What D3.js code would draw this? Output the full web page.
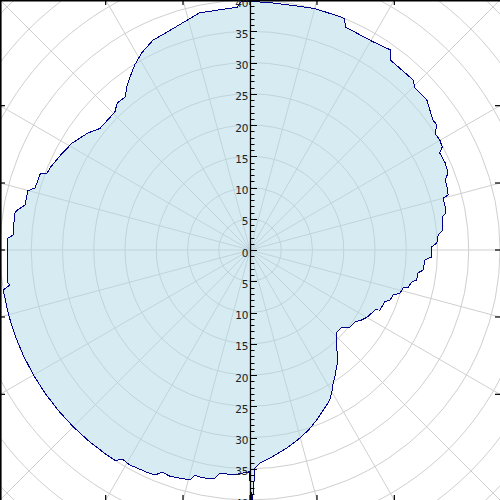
<!DOCTYPE html>
<html>
<head>
<meta charset="utf-8">
<script src="https://cdn.jsdelivr.net/npm/d3@7"></script>
<style>
  html, body { margin: 0; padding: 0; background: #fff; }
  svg { display: block; }
</style>
</head>
<body>
<div class="polar"></div>
<script>
(function() {
  // direction in degrees, clockwise from north
  var directions = [0, 5, 9, 15, 21, 22.3, 23.1, 30.6, 35, 36.4, 43.8, 45.5, 49.7, 54.6, 56.2, 57.7,
    59.9, 61.8, 62.9, 65.9, 68.7, 70.3, 72.3, 74.5, 74.9, 77.6, 79.3, 80.2, 84.1, 85.4, 87.9, 89,
    92.2, 93.3, 96.6, 97.8, 100.2, 101.2, 103.2, 104, 106, 107.5, 109.7, 111, 114.8, 115.6, 119.8,
    122, 124.4, 127.6, 130, 133.3, 136, 139, 141.3, 146.2, 148, 150, 152, 158.5, 162, 165.8, 169.4,
    174, 177.3, 178.7, 179.5, 180.2, 184.3, 187.7, 188.7, 189.9, 192.4, 193.7, 194.6, 197, 199.5,
    201.6, 202.9, 204.9, 209.2, 211.5, 212.5, 215, 220, 225, 230, 235, 240, 245, 250, 255, 260.8,
    261.7, 262.2, 267.6, 272.4, 272.8, 273.6, 278.9, 279.7, 281.3, 284.9, 286.1, 289.9, 290.8,
    292.3, 297.3, 301, 305.8, 309, 315.6, 317.9, 320.8, 323.3, 325.3, 328.1, 331.3, 335.2, 339.2,
    344, 348, 357, 358];
  var values = [39.8, 39.7, 39.7, 40, 40, 40, 38.8, 38.7, 39.1, 37.8, 37.7, 37, 37.1, 35.9, 36, 35,
    35.1, 34.9, 34.1, 34.2, 34, 33.2, 33.1, 32.9, 32, 32, 31.9, 31.2, 31, 30.2, 29.9, 29.1,
    29.1, 28, 27.9, 27.1, 27.1, 26.4, 26, 25.2, 25, 24, 23.8, 23.1, 22.9, 22.2, 21.6,
    21.1, 20.4, 20.2, 19.2, 19.1, 20, 21.2, 22.5, 24.4, 25.1, 26.2, 27.2, 29.2, 30.3, 31.3, 32.2,
    33.3, 34.1, 34.9, 41, 35.5, 36.1, 36, 36.9, 37.2, 37.2, 37.1, 38, 38.2, 38.4,
    38.2, 39.1, 39.2, 39.4, 39.2, 40, 40, 40, 40, 40, 40, 40, 40, 40, 40, 40,
    38.8, 39.1, 38.9, 38.9, 38.8, 38, 38.1, 37.8, 36.7, 36.8, 35.8, 35.7, 34.7,
    34.6, 33.8, 33.2, 32, 30.9, 30.9, 31.7, 31.6, 32.9, 33.7, 34.9, 36, 37, 37.3,
    38, 38.8, 38.9, 39.8];
  var tickLabels = ['0', '5', '10', '15', '20', '25', '30', '35', '40'];

  var width = 500, height = 500;
  var cx = 250, cy = 250;

  var data = directions.map(function(d, i) { return { dir: d, v: values[i] }; });

  var r = d3.scaleLinear().domain([0, 40]).range([0, 250]);
  var ang = function(deg) { return deg * Math.PI / 180; };

  var svg = d3.select('.polar')
    .append('svg')
    .attr('width', width)
    .attr('height', height);

  svg.append('clipPath').attr('id', 'plotclip')
    .append('rect').attr('x', 0).attr('y', 0).attr('width', width).attr('height', height);

  var g = svg.append('g')
    .attr('clip-path', 'url(#plotclip)')
    .append('g')
    .attr('transform', 'translate(' + cx + ',' + cy + ')');

  // circular grid every 5
  g.selectAll('.ring')
    .data(d3.range(5, 60, 5))
    .enter()
    .append('circle')
    .attr('class', 'ring')
    .attr('r', function(d) { return r(d); })
    .attr('fill', 'none')
    .attr('stroke', '#cfcfcf')
    .attr('stroke-width', 1);

  // spokes every 15 degrees
  var spokes = d3.range(0, 360, 15);
  g.selectAll('.spoke')
    .data(spokes)
    .enter()
    .append('line')
    .attr('class', 'spoke')
    .attr('x1', 0).attr('y1', 0)
    .attr('x2', function(d) { return Math.sin(ang(d)) * 400; })
    .attr('y2', function(d) { return -Math.cos(ang(d)) * 400; })
    .attr('stroke', '#cfcfcf')
    .attr('stroke-width', 1);

  // filled series
  var area = d3.areaRadial()
    .angle(function(d) { return ang(d.dir); })
    .innerRadius(0)
    .outerRadius(function(d) { return r(d.v); })
    .curve(d3.curveLinearClosed);

  var line = d3.lineRadial()
    .angle(function(d) { return ang(d.dir); })
    .radius(function(d) { return r(d.v); })
    .curve(d3.curveLinearClosed);

  g.append('path')
    .datum(data)
    .attr('d', area)
    .attr('fill', 'lightblue')
    .attr('fill-opacity', 0.5);

  g.append('path')
    .datum(data)
    .attr('d', line)
    .attr('fill', 'none')
    .attr('stroke', '#00008b')
    .attr('stroke-width', 1)
    .style('shape-rendering', 'crispEdges');

  // frame ticks where spokes leave the plot
  var edgeTicks = [];
  spokes.forEach(function(d) {
    var sx = Math.sin(ang(d)), sy = -Math.cos(ang(d));
    var t = Math.min(sx !== 0 ? Math.abs(250 / sx) : 1e9, sy !== 0 ? Math.abs(250 / sy) : 1e9);
    var x = cx + sx * t, y = cy + sy * t;
    if (Math.abs(Math.abs(sx * t) - Math.abs(sy * t)) < 1) return;
    edgeTicks.push({ x: x, y: y, vert: Math.abs(y - 0) < 1 || Math.abs(y - 500) < 1 });
  });

  svg.selectAll('.edgetick')
    .data(edgeTicks)
    .enter()
    .append('line')
    .attr('class', 'edgetick')
    .attr('x1', function(d) { return d.x; })
    .attr('y1', function(d) { return d.y; })
    .attr('x2', function(d) { return d.vert ? d.x : (d.x < 250 ? 5 : 495); })
    .attr('y2', function(d) { return d.vert ? (d.y < 250 ? 5 : 495) : d.y; })
    .attr('stroke', '#000')
    .attr('stroke-width', 1.2);

  // frame (left and top edges visible)
  svg.append('path')
    .attr('d', 'M0.8,500V0.8H500')
    .attr('fill', 'none')
    .attr('stroke', '#000')
    .attr('stroke-width', 1.6);

  // vertical radial axis
  svg.append('line')
    .attr('x1', 250.5).attr('x2', 250.5)
    .attr('y1', 0).attr('y2', 500)
    .attr('stroke', '#000')
    .attr('stroke-width', 1.2);

  var minor = d3.range(-40, 41, 1);
  svg.selectAll('.atick')
    .data(minor)
    .enter()
    .append('line')
    .attr('class', 'atick')
    .attr('x1', 250.5)
    .attr('x2', function(d) { return d % 5 === 0 ? 257 : 254.5; })
    .attr('y1', function(d) { return Math.round(cy - r(d)) + 0.5; })
    .attr('y2', function(d) { return Math.round(cy - r(d)) + 0.5; })
    .attr('stroke', '#000')
    .attr('stroke-width', 1);

  var labelData = [];
  tickLabels.forEach(function(t) {
    labelData.push({ text: t, y: cy - r(+t) });
    if (+t !== 0) labelData.push({ text: t, y: cy + r(+t) });
  });

  svg.selectAll('.alabel')
    .data(labelData)
    .enter()
    .append('text')
    .attr('class', 'alabel')
    .attr('x', 248.5)
    .attr('y', function(d) { return d.y + 6.6; })
    .attr('text-anchor', 'end')
    .style('font-family', 'DejaVu Sans')
    .style('font-size', '10.5px')
    .style('fill', '#222')
    .text(function(d) { return d.text; });
})();
</script>
</body>
</html>
